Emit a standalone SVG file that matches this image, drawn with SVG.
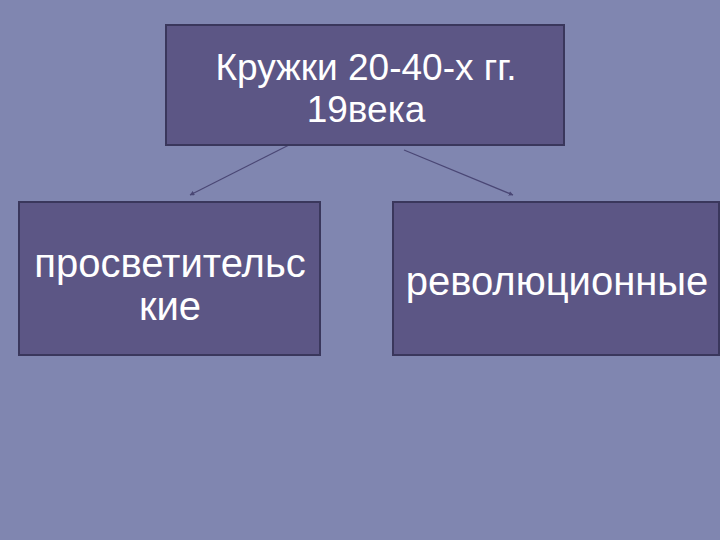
<svg xmlns="http://www.w3.org/2000/svg" width="720" height="540" viewBox="0 0 720 540">
<defs>
<style>
.box{fill:#5c5685;stroke:#3a375c;stroke-width:2}
.t{fill:#ffffff;font-family:"Liberation Sans",Arial,sans-serif;text-anchor:middle}
.c{stroke:#4a4775;stroke-width:1.2;fill:none;marker-end:url(#a)}
</style>
<marker id="a" viewBox="0 0 10 10" refX="9" refY="5" markerWidth="4" markerHeight="4" orient="auto"><path d="M0,0L10,5L0,10z" fill="#4a4775"/></marker>
</defs>
<rect width="720" height="540" fill="#8086b0"/>
<g id="connectors">
<line class="c" x1="289" y1="145" x2="190" y2="195"/>
<line class="c" x1="404" y1="150" x2="513" y2="195"/>
</g>
<g id="top">
<rect class="box" x="166" y="25" width="398" height="120"/>
<text class="t" x="366" y="80" font-size="37">Кружки 20-40-х гг.</text>
<text class="t" x="366" y="122" font-size="37">19века</text>
</g>
<g id="left">
<rect class="box" x="19" y="202" width="301" height="153"/>
<text class="t" x="170" y="277" font-size="40">просветительс</text>
<text class="t" x="170" y="320" font-size="40">кие</text>
</g>
<g id="right">
<rect class="box" x="393" y="202" width="326" height="153"/>
<text class="t" x="557" y="295" font-size="40">революционные</text>
</g>
</svg>
